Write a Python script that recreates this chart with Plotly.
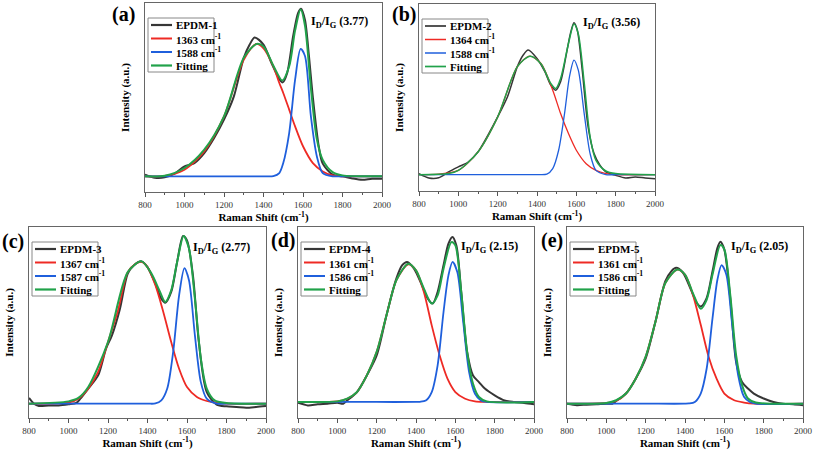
import plotly.graph_objects as go

W, H = 813, 450

# ---------------- data (Intensity in a.u.) ----------------
a_raw_x = [800,850,900,950,1000,1050,1100,1150,1200,1250,1300,1330,1355,1400,1440,1480,1497,1520,1550,1575,1590,1610,1630,1650,1680,1700,1750,1800,1850,1900,1950,2000]
a_raw_y = [9.2,7.6,7.8,9.7,13.6,15.3,20.6,28.6,38.3,50.6,71,78,81.8,78,68.3,59.8,58,63,82.4,94.7,97,91,72,50,24,15,9.2,8.3,7.2,6.5,7,7]
a_d_x = [800,900,1000,1100,1200,1300,1363,1400,1450,1480,1500,1530,1560,1600,1650,1700,1750,1800,2000]
a_d_y = [8.3,8.5,11.8,21.5,40,70,78.3,76,66.5,57.7,52.4,43.6,34.7,24.2,15.3,10.9,8.8,8.3,8.3]
a_g_x = [800,1000,1200,1400,1450,1480,1500,1530,1560,1588,1610,1640,1670,1700,1750,1800,2000]
a_g_y = [8.3,8.3,8.3,8.3,8.4,10,15.3,31.2,59.4,75.7,72,40,18.9,10,8.3,8.3,8.3]
a_fit_x = [800,900,1000,1100,1200,1300,1365,1400,1450,1495,1530,1560,1588,1610,1640,1670,1700,1750,1800,2000]
a_fit_y = [8.3,8.6,12.7,22.4,40,71,78.3,77,66.8,59,66.5,85.5,96.5,88,55,28,17,10.5,8.8,8.3]

b_raw_x = [800,850,900,950,1000,1050,1100,1150,1200,1250,1300,1330,1355,1400,1440,1470,1495,1520,1550,1570,1588,1605,1630,1660,1690,1720,1750,1800,1850,1900,1950,2000]
b_raw_y = [9.3,7,7.1,10.2,12.9,15.5,20.9,29.8,39.6,50.4,66.5,72.7,75.4,70.9,63.8,56.6,53.9,58.4,73.6,84.3,90,86,64.6,34.3,20,13.8,10.2,8.4,7,7.5,7,6.6]
b_d_x = [800,900,1000,1100,1200,1300,1364,1420,1480,1520,1560,1600,1650,1700,1750,1800,2000]
b_d_y = [8.75,9,11,20.9,39.6,66.5,72.1,68.2,53.9,41.4,30.7,21.8,14.6,11,9.3,8.75,8.75]
b_g_x = [800,1000,1200,1400,1450,1480,1510,1540,1565,1588,1610,1640,1670,1700,1750,1800,2000]
b_g_y = [8.75,8.75,8.75,8.75,9,12,21.8,41.4,61,70,64.6,41.4,20,11,8.75,8.75,8.75]
b_fit_x = [800,950,1000,1100,1200,1300,1365,1420,1470,1495,1520,1560,1588,1610,1640,1670,1700,1750,1800,2000]
b_fit_y = [8.75,9.3,11,20.9,39.6,66.5,72.1,68,57.5,54.8,60.2,78.9,89.3,84,58,29,16.4,10.7,9.3,8.75]

c_raw_x = [800,825,850,900,950,1000,1040,1060,1100,1150,1190,1220,1260,1300,1330,1370,1400,1440,1470,1490,1520,1550,1580,1600,1630,1660,1700,1750,1800,1850,1900,1950,2000]
c_raw_y = [10.5,7.5,6.3,6.6,6.6,7.2,7.9,10.1,15.4,22.3,36.3,43.3,57,75.6,79.9,82,79,70.3,62.5,60.4,66,81.7,95.3,93,74.7,39.8,13.6,7,6.1,5.8,5.4,5.8,6.3]
c_d_x = [800,900,1000,1050,1100,1150,1200,1250,1300,1340,1370,1400,1440,1480,1520,1560,1600,1650,1700,1750,1800,2000]
c_d_y = [7.5,7.5,8,10.1,15.4,24.1,39.8,56,76.4,80.8,81.7,79,69.5,55.5,39.8,25.8,16.2,11,8.9,7.9,7.5,7.5]
c_g_x = [800,1000,1200,1400,1440,1470,1500,1530,1560,1587,1610,1640,1670,1700,1750,1800,2000]
c_g_y = [7.5,7.5,7.5,7.5,7.6,9.2,15.4,34.6,64.2,78.5,72.1,43.3,18.8,10.1,7.5,7.5,7.5]
c_fit_x = [800,1000,1050,1100,1200,1300,1370,1420,1460,1490,1520,1550,1583,1610,1640,1670,1700,1740,1800,2000]
c_fit_y = [7.5,8.7,10.5,16.2,39.8,76.4,82,75.6,66.8,60.7,66.8,81.7,95.3,88.7,62.5,31.1,15.4,9.2,7.9,7.5]

d_raw_x = [800,850,900,950,1000,1030,1050,1100,1150,1200,1250,1300,1330,1355,1390,1430,1460,1485,1510,1540,1565,1585,1605,1630,1660,1690,1720,1750,1800,1850,1900,1950,2000]
d_raw_y = [8,6.6,7.2,7.5,8,7.5,9.2,13.6,22.3,32.8,53.8,73,80,81.7,78.2,69.5,62.5,59.9,66,80,91.3,94.8,90.4,66,34.6,22.3,18.8,15.4,11.9,9.2,8.4,7.9,7.2]
d_d_x = [800,1000,1050,1100,1150,1200,1250,1300,1361,1400,1440,1480,1520,1560,1600,1650,1700,1750,2000]
d_d_y = [8.4,8.7,10.1,13.6,22.3,34.6,53.8,72.1,80.5,77.3,66,48.5,32.8,20.6,13.6,10.1,8.7,8.4,8.4]
d_g_x = [800,1000,1200,1400,1420,1450,1480,1510,1540,1565,1586,1610,1640,1670,1700,1730,1760,2000]
d_g_y = [8.4,8.4,8.4,8.4,8.5,9.2,13.6,27.6,55.5,74.7,81.7,76.4,50.3,24.1,12.7,9.2,8.4,8.4]
d_fit_x = [800,1000,1050,1100,1150,1200,1250,1300,1361,1400,1440,1480,1510,1540,1580,1600,1630,1660,1690,1720,1760,2000]
d_fit_y = [8.4,8.7,10.1,13.6,22.3,34.6,53.8,72.1,80.8,77.3,67.7,59.9,64.2,78.2,92.1,90.4,66,34.6,17.9,11,8.7,8.4]

e_raw_x = [800,850,900,950,1000,1030,1050,1100,1150,1200,1250,1300,1330,1355,1390,1430,1460,1480,1510,1540,1565,1580,1600,1630,1660,1690,1720,1750,1800,1850,1900,1950,2000]
e_raw_y = [7.5,6.7,7,7.2,7.5,7.5,8.9,12.8,20.7,31.2,50.5,71.6,76.8,78.6,76,67.2,60.2,58.4,62.8,76.8,89.1,92.3,88.2,62.8,29.3,18.8,15.4,12.8,10.2,8.4,7.5,7.2,6.7]
e_d_x = [800,1000,1050,1100,1150,1200,1250,1300,1361,1400,1440,1480,1520,1560,1600,1650,1700,1750,2000]
e_d_y = [7.5,7.9,8.9,12.8,20.7,32.1,50.5,70.7,77.7,75.1,64.6,48.8,32.1,20.7,12.8,9.3,8.1,7.5,7.5]
e_g_x = [800,1000,1200,1400,1420,1450,1480,1510,1540,1565,1586,1610,1640,1670,1700,1730,1760,2000]
e_g_y = [7.5,7.5,7.5,7.5,7.6,8.4,12.8,25.8,52.3,72.5,80,75.1,48.8,22.5,11.1,8.4,7.5,7.5]
e_fit_x = [800,1000,1050,1100,1150,1200,1250,1300,1361,1400,1440,1480,1510,1540,1580,1600,1630,1660,1690,1720,1760,2000]
e_fit_y = [7.5,7.9,9.3,12.8,20.7,32.1,50.5,70.7,77.7,75.1,65.4,57.2,61.9,75.1,90.5,88.2,64.6,32.8,17.2,10.2,8.1,7.5]

panel_tags = ["(a)", "(b)", "(c)", "(d)", "(e)"]
sample_names = ["EPDM-1", "EPDM-2", "EPDM-3", "EPDM-4", "EPDM-5"]
d_band = ["1363", "1364", "1367", "1361", "1361"]
g_band = ["1588", "1588", "1587", "1586", "1586"]
ratios = ["3.77", "3.56", "2.77", "2.15", "2.05"]
x_ticks = [800, 1000, 1200, 1400, 1600, 1800, 2000]

series = [
    (a_raw_x, a_raw_y, a_d_x, a_d_y, a_g_x, a_g_y, a_fit_x, a_fit_y),
    (b_raw_x, b_raw_y, b_d_x, b_d_y, b_g_x, b_g_y, b_fit_x, b_fit_y),
    (c_raw_x, c_raw_y, c_d_x, c_d_y, c_g_x, c_g_y, c_fit_x, c_fit_y),
    (d_raw_x, d_raw_y, d_d_x, d_d_y, d_g_x, d_g_y, d_fit_x, d_fit_y),
    (e_raw_x, e_raw_y, e_d_x, e_d_y, e_g_x, e_g_y, e_fit_x, e_fit_y),
]

# ---------------- layout geometry (page pixels) ----------------
boxes = [  # left, right, top, bottom
    (145, 382, 3, 192),
    (419, 655, 4, 191),
    (29, 266, 227, 418),
    (298, 534, 227, 418),
    (567, 803, 227, 418),
]
tag_pos = [(124, 15), (404, 15), (13, 241), (283, 240), (552, 240)]
ratio_pos = [(370, 22), (642, 23), (252, 248), (520, 247), (790, 247)]


def px(x):
    return x / W


def py(y):
    return 1 - y / H


SERIF = "Liberation Serif"
colors = ["#363636", "#ee2a24", "#1f5fdc", "#21a24a"]

fig = go.Figure()
annotations = []
shapes = []
layout = dict(
    width=W, height=H, margin=dict(l=0, r=0, t=0, b=0, autoexpand=False),
    paper_bgcolor="white", plot_bgcolor="white",
    font=dict(family=SERIF, color="black"),
    showlegend=False,
)

for i in range(5):
    rx, ry, dx, dy, gx, gy, fx, fy = series[i]
    L, R, T, B = boxes[i]
    dom_x = [px(L), px(R)]
    dom_y = [py(B), py(T)]
    sfx = "" if i == 0 else str(i + 1)
    xa, ya = "x" + sfx, "y" + sfx
    wthin = 1.3 if i == 1 else 1.8
    widths = [wthin + 0.2, wthin, wthin, wthin + 0.2]
    names = [sample_names[i], d_band[i] + " cm<sup>-1</sup>", g_band[i] + " cm<sup>-1</sup>", "Fitting"]
    data = [(rx, ry), (dx, dy), (gx, gy), (fx, fy)]
    for k in range(4):
        fig.add_trace(go.Scatter(
            x=data[k][0], y=data[k][1], mode="lines", name=names[k],
            line=dict(color=colors[k], width=widths[k], shape="spline", smoothing=0.8),
            xaxis=xa, yaxis=ya,
        ))
    layout["xaxis" + sfx] = dict(
        domain=dom_x, anchor=ya, range=[800, 2000], automargin=False,
        tickvals=x_ticks, ticks="outside", ticklen=4, tickcolor="#555",
        minor=dict(dtick=100, ticks="outside", ticklen=2, tickcolor="#555"),
        showline=True, linecolor="#666", linewidth=1, mirror=True,
        showgrid=False, zeroline=False,
        tickfont=dict(family=SERIF, size=9, color="#333"),
        title=dict(text="Raman Shift (cm<sup>-1</sup>)", standoff=4,
                   font=dict(family=SERIF, size=11, weight="bold", color="black")),
    )
    layout["yaxis" + sfx] = dict(
        domain=dom_y, anchor=xa, range=[0, 100], automargin=False,
        showticklabels=False, ticks="",
        showline=True, linecolor="#666", linewidth=1, mirror=True,
        showgrid=False, zeroline=False,
        title=dict(text="Intensity (a.u.)", standoff=12,
                   font=dict(family=SERIF, size=11, weight="bold", color="black")),
    )

    # legend box (drawn like the original's compact legend)
    shapes.append(dict(type="rect", xref="paper", yref="paper",
                       x0=px(L + 3), x1=px(L + 69), y0=py(T + 69), y1=py(T + 15),
                       line=dict(color="#888", width=1), fillcolor="white", layer="above"))
    for k in range(4):
        yc = T + 22 + k * 13.5
        shapes.append(dict(type="line", xref="paper", yref="paper",
                           x0=px(L + 6), x1=px(L + 27), y0=py(yc), y1=py(yc),
                           line=dict(color=colors[k], width=widths[k] + 0.2), layer="above"))
        annotations.append(dict(
            x=px(L + 29), y=py(yc), xref="paper", yref="paper", text=names[k],
            showarrow=False, xanchor="left", yanchor="middle",
            font=dict(family=SERIF, size=11, weight="bold", color="black"),
        ))

    tx, ty = tag_pos[i]
    annotations.append(dict(
        x=px(tx), y=py(ty), xref="paper", yref="paper", text=panel_tags[i],
        showarrow=False, xanchor="center", yanchor="middle",
        font=dict(family=SERIF, size=20, weight="bold", color="black"),
    ))
    qx, qy = ratio_pos[i]
    annotations.append(dict(
        x=px(qx), y=py(qy), xref="paper", yref="paper",
        text="I<sub>D</sub>/I<sub>G</sub> (" + ratios[i] + ")",
        showarrow=False, xanchor="right", yanchor="middle",
        font=dict(family=SERIF, size=12, weight="bold", color="black"),
    ))

layout["annotations"] = annotations
layout["shapes"] = shapes
fig.update_layout(**layout)
# remove the default 8px page margin so the figure starts at the window corner
fig.write_html("out.html", config={"displayModeBar": False},
               post_script="document.body.style.margin='0';")
